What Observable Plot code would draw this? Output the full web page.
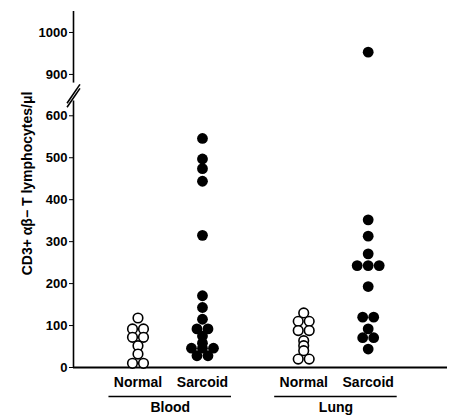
<!DOCTYPE html>
<html>
<head>
<meta charset="utf-8">
<script src="https://cdn.jsdelivr.net/npm/d3@7"></script>
<script src="https://cdn.jsdelivr.net/npm/@observablehq/plot@0.6"></script>
<style>
  body { margin: 0; background: #fff; }
  #chart svg { font-family: "Liberation Sans", Arial, Helvetica, sans-serif; font-weight: bold; }
</style>
</head>
<body>
<div id="chart"></div>
<script>
// ---- data ----
const tissues = ["Blood", "Lung"];
const conditions = ["Normal", "Sarcoid"];
const bloodNormal = [118, 92, 92, 72, 72, 52, 32, 10, 10];
const bloodSarcoid = [546, 497, 474, 444, 315, 171, 143, 115, 92, 92, 75, 58, 46, 46, 46, 28, 28];
const lungNormal = [130, 110, 110, 88, 88, 64, 52, 40, 20, 20];
const lungSarcoid = [953, 352, 313, 271, 243, 243, 243, 193, 120, 120, 92, 71, 71, 44];
const yTicks = [0, 100, 200, 300, 400, 500, 600, 900, 1000];
const yLabel = "CD3+ αβ− T lymphocytes/μl";

const series = [
  {tissue: "Blood", condition: "Normal", values: bloodNormal},
  {tissue: "Blood", condition: "Sarcoid", values: bloodSarcoid},
  {tissue: "Lung", condition: "Normal", values: lungNormal},
  {tissue: "Lung", condition: "Sarcoid", values: lungSarcoid}
];

// ---- layout ----
const W = 455, H = 417, mL = 73, mR = 8, mT = 11, mB = 50;
const breakLo = 650, breakHi = 880, yMax = 1050, gapPx = 12;
const k = ((H - mB - mT) - gapPx) / (breakLo + (yMax - breakHi));
const yBottom = H - mB;
const yRange = [yBottom, yBottom - breakLo * k, yBottom - breakLo * k - gapPx, mT];
const xDomain = [0, 5.8];
const tissueGap = 2.57;
const xCenter = (t, c) => tissues.indexOf(t) * tissueGap + conditions.indexOf(c) + 1;
const tissueCenter = t => tissues.indexOf(t) * tissueGap + 1.5;

const xs = Plot.scale({x: {type: "linear", domain: xDomain, range: [mL, W - mR]}});

// dot-plot layout: equal values side by side, centred on the group
const dotStep = 11;
const dots = [];
for (const s of series) {
  const cx = xs.apply(xCenter(s.tissue, s.condition));
  const counts = d3.rollup(s.values, v => v.length, d => d);
  const seen = new Map();
  for (const v of s.values) {
    const n = counts.get(v);
    const i = seen.get(v) ?? 0;
    seen.set(v, i + 1);
    dots.push({tissue: s.tissue, condition: s.condition, value: v,
               x: xs.invert(cx + (i - (n - 1) / 2) * dotStep)});
  }
}

const groups = series.map(s => ({tissue: s.tissue, condition: s.condition}));

const chart = Plot.plot({
  width: W,
  height: H,
  marginLeft: mL,
  marginRight: mR,
  marginTop: mT,
  marginBottom: mB,
  style: {fontSize: "13px", fontFamily: "'Liberation Sans', Arial, sans-serif", color: "#000", background: "#fff"},
  x: {type: "linear", domain: xDomain, range: [mL, W - mR], axis: null},
  y: {type: "linear", domain: [0, breakLo, breakHi, yMax], range: yRange,
      ticks: yTicks, tickSize: 4, tickPadding: 2, label: null, tickFormat: d => String(d)},
  marks: [
    // y axis line with break
    Plot.ruleX([0], {y1: 0, y2: breakLo - 15, stroke: "#000", strokeWidth: 1.6}),
    Plot.ruleX([0], {y1: breakHi - 5, y2: yMax, stroke: "#000", strokeWidth: 1.6}),
    Plot.link([0], {x1: -0.1, x2: 0.1, y1: 630, y2: 850, stroke: "#000", strokeWidth: 1.6}),
    Plot.link([0], {x1: -0.1, x2: 0.1, y1: 630, y2: 850, stroke: "#000", strokeWidth: 1.6, dy: 4}),
    // x axis line
    Plot.ruleY([0], {x1: xDomain[0], x2: xDomain[1], stroke: "#000", strokeWidth: 1.8}),
    // dots
    Plot.dot(dots.filter(d => d.condition === "Normal"),
      {x: "x", y: "value", r: 4.8, fill: "#fff", stroke: "#000", strokeWidth: 1.6}),
    Plot.dot(dots.filter(d => d.condition === "Sarcoid"),
      {x: "x", y: "value", r: 5.4, fill: "#000", stroke: "none"}),
    // category labels
    Plot.text(groups, {x: d => xCenter(d.tissue, d.condition), y: () => 0, text: "condition",
      dy: 15, fontSize: 14, fontWeight: "bold", fill: "#000"}),
    Plot.ruleY(tissues, {y: () => 0, x1: t => tissueCenter(t) - 0.95, x2: t => tissueCenter(t) + 0.95,
      dy: 29, stroke: "#000", strokeWidth: 1.5}),
    Plot.text(tissues, {x: t => tissueCenter(t), y: () => 0, text: t => t, dy: 40, fontSize: 14,
      fontWeight: "bold", fill: "#000"}),
    // y axis title
    Plot.text([yLabel], {text: d => d, frameAnchor: "left", textAnchor: "middle", rotate: -90,
      dx: -46, dy: -6, fontSize: 14, fontWeight: "bold", fill: "#000"})
  ]
});
document.getElementById("chart").appendChild(chart);
</script>
</body>
</html>
